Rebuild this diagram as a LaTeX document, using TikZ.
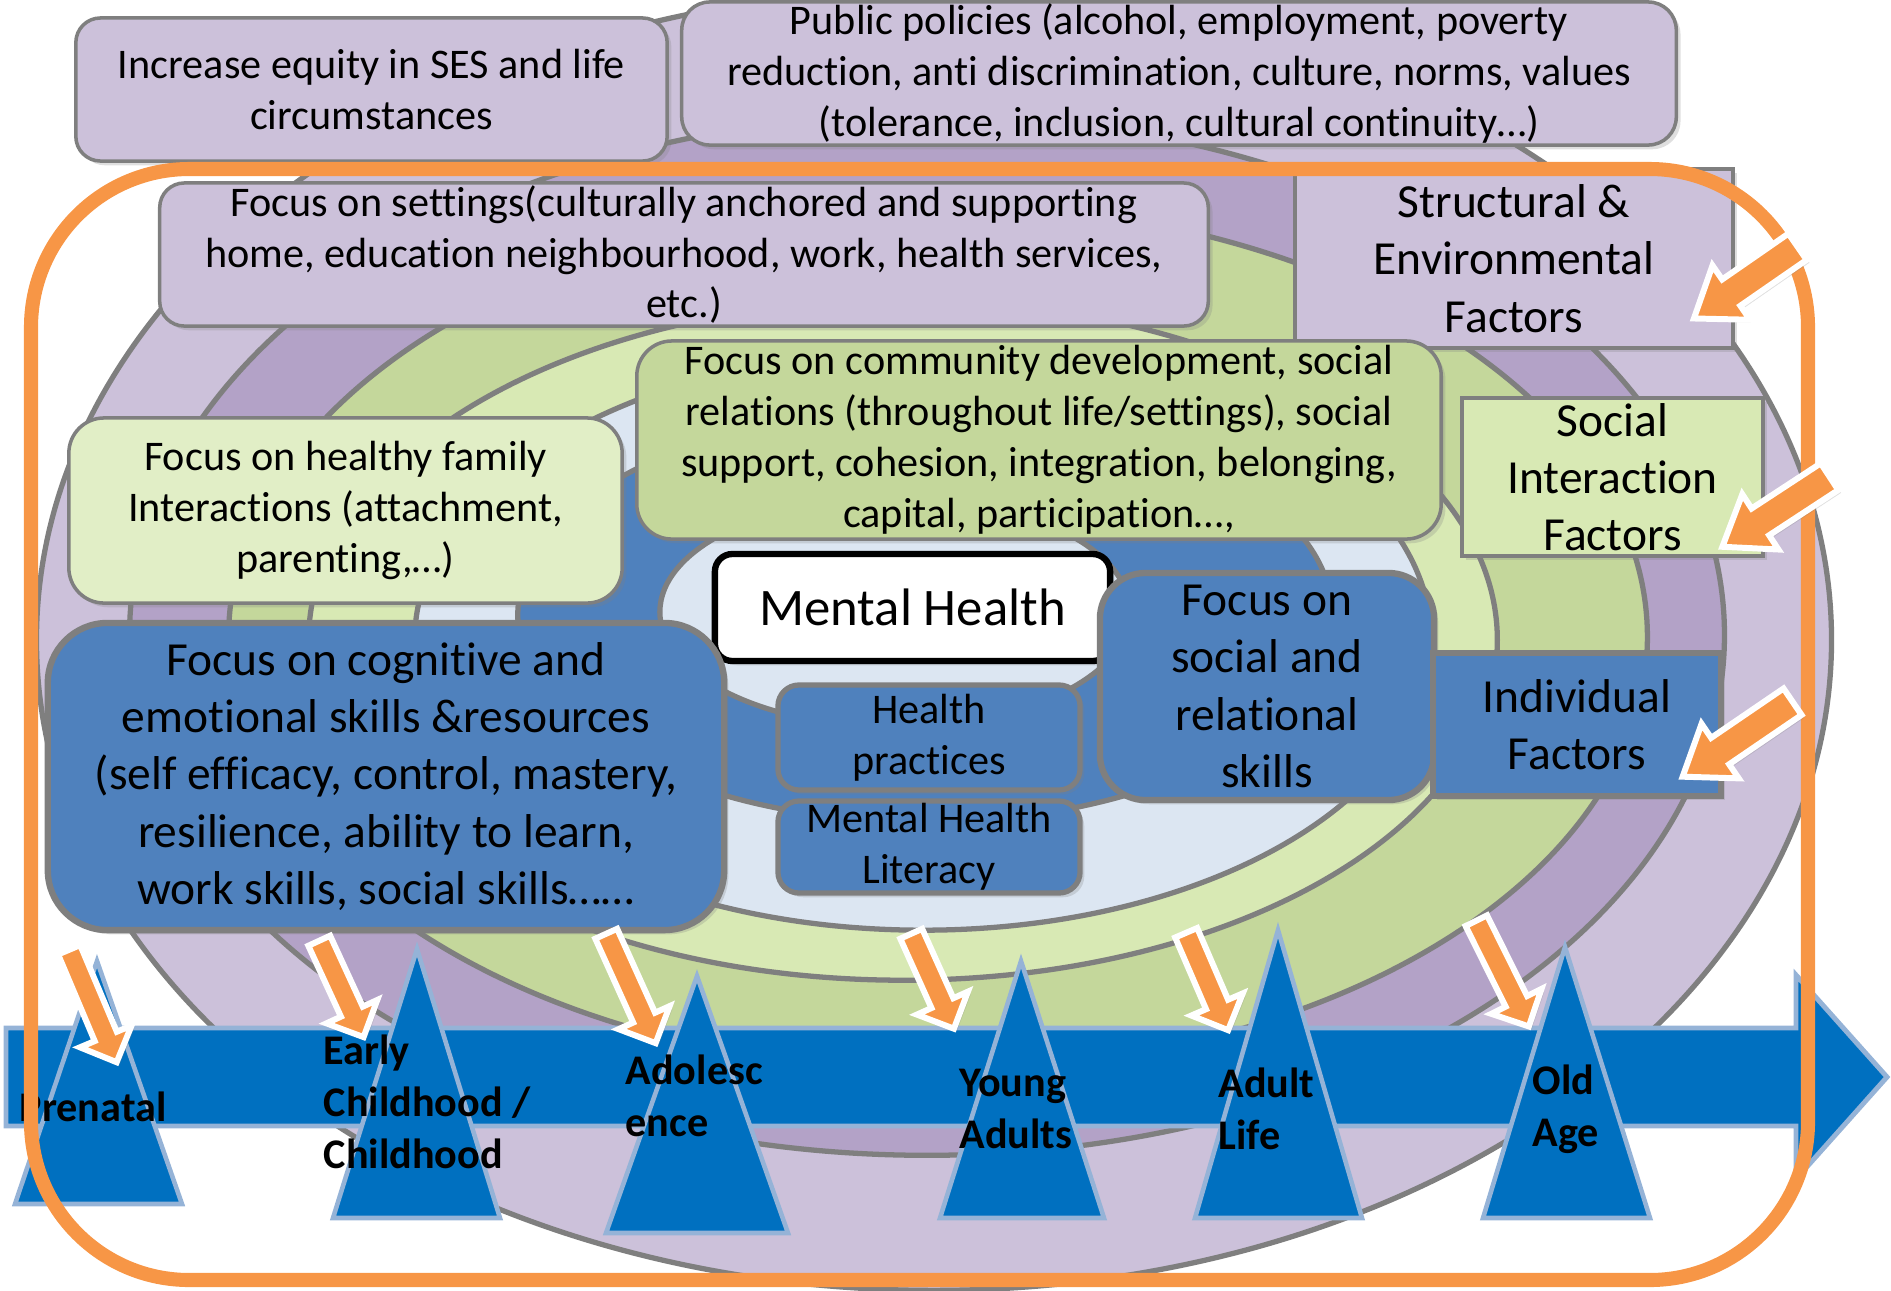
\documentclass[tikz,border=0pt]{standalone}
\usepackage{fontspec}
\setmainfont{Carlito}[Ligatures=NoCommon]
\usetikzlibrary{shapes.arrows,shadows}

\definecolor{lav}{HTML}{CCC1DA}
\definecolor{purp}{HTML}{B3A2C7}
\definecolor{olivegr}{HTML}{C4D79B}
\definecolor{lgreen}{HTML}{D8E9B4}
\definecolor{famgreen}{HTML}{E1EEC6}
\definecolor{lblue}{HTML}{DCE6F2}
\definecolor{mblue}{HTML}{4F81BD}
\definecolor{tblue}{HTML}{0070C0}
\definecolor{tedge}{HTML}{95B3D7}
\definecolor{orng}{HTML}{F79646}
\definecolor{ringgray}{HTML}{7F7F7F}

\begin{document}
\begin{tikzpicture}[x=0.01cm, y=-0.01cm,
  ringline/.style={draw=ringgray, line width=1.5pt},
  fbox/.style={draw=ringgray, line width=1pt, align=center, inner sep=0pt, text=black,
    font=\fontsize{12}{14.5}\selectfont,
    drop shadow={shadow xshift=1.2pt, shadow yshift=-1.2pt, opacity=0.25}},
  bigfont/.style={font=\fontsize{13.5}{16.3}\selectfont},
  agetri/.style={fill=tblue, draw=tedge, line width=1.3pt},
  agelabel/.style={anchor=west, align=left, inner sep=0pt,
    font=\bfseries\fontsize{12}{14.8}\selectfont},
  oarrow/.style={single arrow, draw=white, fill=orng, line width=1.7pt,
    inner xsep=0pt, inner ysep=0.09cm, single arrow head extend=0.16cm,
    single arrow tip angle=90, anchor=tail,
    drop shadow={shadow xshift=0.8pt, shadow yshift=-0.8pt, opacity=0.25}},
  farrow/.style={oarrow, inner ysep=0.13cm, single arrow head extend=0.17cm,
    single arrow tip angle=72}
]
\useasboundingbox (0,0) rectangle (1891,1290);

% nested rings, outermost first
\draw[ringline, fill=lav]     (934,640) ellipse [x radius=8.97cm, y radius=6.5cm];
\draw[ringline, fill=purp]    (927,635) ellipse [x radius=7.97cm, y radius=5.2cm];
\draw[ringline, fill=olivegr] (938,637) ellipse [x radius=7.09cm, y radius=4.33cm];
\draw[ringline, fill=lgreen]  (903,640) ellipse [x radius=5.94cm, y radius=3.4cm];
\draw[ringline, fill=lblue]   (923,640) ellipse [x radius=5.08cm, y radius=2.9cm];
\draw[ringline, fill=mblue]   (925,615) ellipse [x radius=4.07cm, y radius=2.07cm];
\draw[ringline, fill=lblue]   (895,612) ellipse [x radius=2.35cm, y radius=1.15cm];

% text boxes
\node[fbox, fill=lav, minimum width=5.91cm, minimum height=1.43cm, rounded corners=7pt]
  (equity) at (371.5,89.5) {Increase equity in SES and life\\circumstances};
\node[fbox, fill=lav, minimum width=9.94cm, minimum height=1.43cm, rounded corners=8pt]
  (policies) at (1179,73.5) {Public policies (alcohol, employment, poverty\\reduction, anti discrimination, culture, norms, values\\(tolerance, inclusion, cultural continuity…)};
\node[fbox, fill=lav, minimum width=10.48cm, minimum height=1.43cm, rounded corners=7pt]
  (settings) at (684,254.5) {Focus on settings(culturally anchored and supporting\\home, education neighbourhood, work, health services,\\etc.)};
\node[fbox, bigfont, fill=lav, minimum width=4.38cm, minimum height=1.79cm]
  (structural) at (1514,258.5) {Structural \&\\Environmental\\Factors};
\node[fbox, fill=olivegr, minimum width=8.04cm, minimum height=1.98cm, rounded corners=10pt]
  (community) at (1039,440) {Focus on community development, social\\relations (throughout life/settings), social\\support, cohesion, integration, belonging,\\capital, participation…,};
\node[fbox, bigfont, fill=lgreen, minimum width=3.01cm, minimum height=1.58cm]
  (socialint) at (1612.5,477) {Social\\Interaction\\Factors};
\node[fbox, fill=famgreen, minimum width=5.53cm, minimum height=1.85cm, rounded corners=10pt]
  (family) at (345.5,510.5) {Focus on healthy family\\Interactions (attachment,\\parenting,…)};
\node[fbox, draw=black, line width=1.8pt, fill=white, minimum width=3.95cm, minimum height=1.07cm,
  rounded corners=5pt, font=\fontsize{15}{18}\selectfont]
  (mh) at (912.5,607.5) {Mental Health};
\node[fbox, bigfont, fill=mblue, line width=1.8pt, minimum width=6.76cm, minimum height=3.07cm, rounded corners=17pt]
  (cognitive) at (386,776.5) {Focus on cognitive and\\emotional skills \&resources\\(self efficacy, control, mastery,\\resilience, ability to learn,\\work skills, social skills……};
\node[fbox, fill=mblue, line width=1.5pt, minimum width=3.02cm, minimum height=1.05cm, rounded corners=6pt]
  (practices) at (929,737.5) {Health\\practices};
\node[fbox, fill=mblue, line width=1.5pt, minimum width=3.02cm, minimum height=0.92cm, rounded corners=6pt]
  (literacy) at (929,847) {Mental Health\\Literacy};
\node[fbox, bigfont, fill=mblue, line width=1.8pt, minimum width=3.34cm, minimum height=2.27cm, rounded corners=13pt]
  (relational) at (1267,686.5) {Focus on\\social and\\relational\\skills};
\node[fbox, bigfont, fill=mblue, line width=1.8pt, minimum width=2.88cm, minimum height=1.43cm]
  (individual) at (1577,724.5) {Individual\\Factors};

% life-course timeline
\draw[fill=tblue, draw=tedge, line width=1.4pt]
  (6,1028) -- (1796,1028) -- (1796,975) -- (1887,1077) -- (1796,1179)
  -- (1796,1126) -- (6,1126) -- cycle;

% life stages
\draw[agetri] (97,961)   -- (182,1204)  -- (15,1204)   -- cycle;
\draw[agetri] (417,949)  -- (500,1218)  -- (333,1218)  -- cycle;
\draw[agetri] (697,976)  -- (788,1233)  -- (606,1233)  -- cycle;
\draw[agetri] (1021,961) -- (1104,1218) -- (940,1218)  -- cycle;
\draw[agetri] (1278,930) -- (1362,1218) -- (1195,1218) -- cycle;
\draw[agetri] (1565,947) -- (1650,1218) -- (1483,1218) -- cycle;

\node[agelabel] (prenatal) at (19,1107)  {Prenatal};
\node[agelabel] (early)    at (323,1102) {Early\\Childhood /\\Childhood};
\node[agelabel] (adol)     at (625,1096) {Adolesc\\ence};
\node[agelabel] (young)    at (959,1109) {Young\\Adults};
\node[agelabel] (adult)    at (1218,1109){Adult\\Life};
\node[agelabel] (old)      at (1532,1109){Old\\Age};

% arrows onto the life stages
\node[oarrow, minimum height=1.22cm, rotate=-67.1] (arPre)   at (68,947)   {};
\node[oarrow, minimum height=1.06cm, rotate=-65.3] (arEarly) at (318,938)  {};
\node[oarrow, minimum height=1.20cm, rotate=-65.7] (arAdol)  at (605,931)  {};
\node[oarrow, minimum height=1.04cm, rotate=-65.8] (arYoung) at (910,931)  {};
\node[oarrow, minimum height=1.06cm, rotate=-66.7] (arAdult) at (1185,930) {};
\node[oarrow, minimum height=1.18cm, rotate=-63.6] (arOld)   at (1475,918) {};

% orange frame
\draw[orng, line width=4pt, rounded corners=45pt] (31,169) rectangle (1808,1280);

% arrows onto the factor boxes
\node[farrow, minimum height=1.26cm, rotate=-145.3] (arStruct) at (1800,245) {};
\node[farrow, minimum height=1.28cm, rotate=-146.8] (arSocial) at (1832,475) {};
\node[farrow, minimum height=1.33cm, rotate=-145.7] (arIndiv)  at (1795,700) {};
\end{tikzpicture}
\end{document}
